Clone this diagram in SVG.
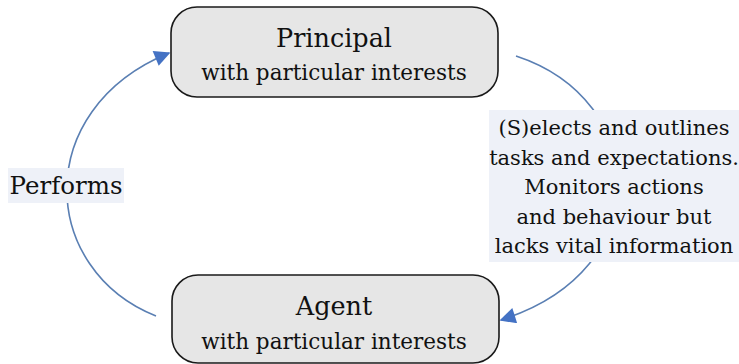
<svg xmlns="http://www.w3.org/2000/svg" width="739" height="364" viewBox="0 0 739 364">
<style>
.box{fill:#e6e6e6;stroke:#1a1a1a;stroke-width:1.6}
.t{font-family:"DejaVu Serif","Liberation Serif",serif;fill:#111;text-anchor:middle}
.big{font-size:25.5px}
.sm{font-size:21.5px}
.lbl{font-size:21px}
.conn{fill:none;stroke:#5a7fb3;stroke-width:1.6}
.bg{fill:#eef1f8}
</style>
<defs>
<marker id="ah" viewBox="0 0 10 10" refX="9" refY="5" markerWidth="18" markerHeight="16" markerUnits="userSpaceOnUse" orient="auto">
<path d="M0,0 L10,5 L0,10 z" fill="#4472c4"/>
</marker>
</defs>
<rect width="739" height="364" fill="#fff"/>
<g id="connectors">
<path class="conn" d="M156,316 C40,270 30,110 169,53" marker-end="url(#ah)"/>
<path class="conn" d="M516,56 C650,100 660,270 501,320" marker-end="url(#ah)"/>
</g>
<g id="label-performs">
<rect class="bg" x="8" y="168" width="116" height="35"/>
<text class="t" x="66" y="194" style="font-size:24.5px">Performs</text>
</g>
<g id="label-selects">
<rect class="bg" x="489" y="110" width="250" height="152"/>
<text class="t lbl" x="614" y="135">(S)elects and outlines</text>
<text class="t lbl" x="614" y="165">tasks and expectations.</text>
<text class="t lbl" x="614" y="194">Monitors actions</text>
<text class="t lbl" x="614" y="224">and behaviour but</text>
<text class="t lbl" x="614" y="253">lacks vital information</text>
</g>
<g id="principal">
<rect class="box" x="171" y="7" width="327" height="90" rx="26"/>
<text class="t big" x="334" y="47">Principal</text>
<text class="t sm" x="334" y="80">with particular interests</text>
</g>
<g id="agent">
<rect class="box" x="172" y="275" width="327" height="88" rx="26"/>
<text class="t big" x="334" y="315">Agent</text>
<text class="t sm" x="334" y="349">with particular interests</text>
</g>
</svg>
